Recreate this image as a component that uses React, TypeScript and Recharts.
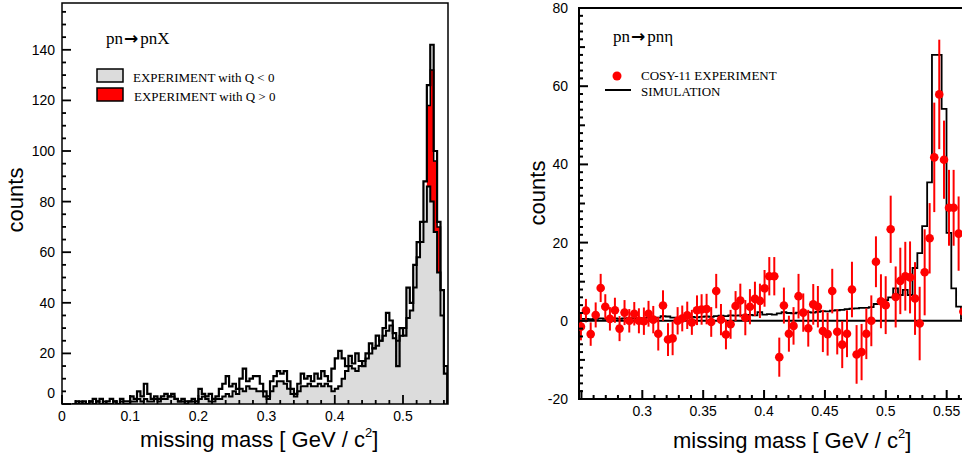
import React from 'react';
import { ComposedChart, Area, Line, XAxis, YAxis, ReferenceArea, ReferenceLine, Scatter, ErrorBar } from 'recharts';

// ---------- Left panel: pn -> pnX histograms (bin start, counts) ----------
const massLeft = [
  0.015, 0.02, 0.025, 0.03, 0.035, 0.04, 0.045, 0.05, 0.055, 0.06,
  0.065, 0.07, 0.075, 0.08, 0.085, 0.09, 0.095, 0.1, 0.105, 0.11,
  0.115, 0.12, 0.125, 0.13, 0.135, 0.14, 0.145, 0.15, 0.155, 0.16,
  0.165, 0.17, 0.175, 0.18, 0.185, 0.19, 0.195, 0.2, 0.205, 0.21,
  0.215, 0.22, 0.225, 0.23, 0.235, 0.24, 0.245, 0.25, 0.255, 0.26,
  0.265, 0.27, 0.275, 0.28, 0.285, 0.29, 0.295, 0.3, 0.305, 0.31,
  0.315, 0.32, 0.325, 0.33, 0.335, 0.34, 0.345, 0.35, 0.355, 0.36,
  0.365, 0.37, 0.375, 0.38, 0.385, 0.39, 0.395, 0.4, 0.405, 0.41,
  0.415, 0.42, 0.425, 0.43, 0.435, 0.44, 0.445, 0.45, 0.455, 0.46,
  0.465, 0.47, 0.475, 0.48, 0.485, 0.49, 0.495, 0.5, 0.505, 0.51,
  0.515, 0.52, 0.525, 0.53, 0.535, 0.54, 0.545, 0.55, 0.555, 0.56,
  0.565,
];
const countsQpos = [
  0, 1, 0, 1, 0, 1, 2, 1, 2, 0,
  1, 2, 1, 0, 2, 1, 1, 3, 2, 5,
  3, 8, 4, 2, 3, 2, 3, 4, 3, 4,
  2, 1, 2, 1, 1, 2, 1, 6, 4, 3,
  4, 2, 3, 6, 8, 11, 7, 8, 6, 10,
  14, 9, 10, 11, 11, 8, 5, 3, 9, 11,
  13, 12, 13, 9, 6, 4, 8, 12, 10, 11,
  9, 12, 10, 13, 11, 9, 14, 18, 21, 18,
  15, 19, 16, 20, 17, 15, 20, 24, 22, 27,
  25, 30, 36, 33, 28, 15, 30, 27, 46, 40,
  55, 64, 72, 88, 126, 142, 100, 72, 45, 12,
  0,
];
const countsQneg = [
  0, 0, 1, 0, 0, 1, 0, 1, 0, 1,
  0, 0, 1, 0, 1, 0, 0, 1, 1, 2,
  1, 2, 1, 1, 2, 1, 2, 2, 3, 3,
  2, 1, 1, 0, 1, 1, 0, 2, 3, 2,
  1, 1, 2, 2, 3, 4, 3, 5, 4, 6,
  5, 7, 6, 6, 5, 5, 3, 2, 5, 7,
  9, 9, 8, 6, 4, 3, 5, 7, 7, 8,
  7, 7, 8, 7, 8, 7, 5, 6, 7, 10,
  13, 15, 14, 13, 15, 17, 18, 20, 22, 23,
  25, 27, 29, 31, 26, 25, 27, 30, 34, 37,
  46, 58, 64, 72, 86, 80, 68, 52, 35, 15,
  0,
];
const countsPeakRed: (number | null)[] = [
  null, null, null, null, null, null, null, null, null, null,
  null, null, null, null, null, null, null, null, null, null,
  null, null, null, null, null, null, null, null, null, null,
  null, null, null, null, null, null, null, null, null, null,
  null, null, null, null, null, null, null, null, null, null,
  null, null, null, null, null, null, null, null, null, null,
  null, null, null, null, null, null, null, null, null, null,
  null, null, null, null, null, null, null, null, null, null,
  null, null, null, null, null, null, null, null, null, null,
  null, null, null, null, null, null, null, null, null, null,
  null, null, null, null, 118, 132, 96, 70, 45, null,
  null,
];

// ---------- Right panel: pn -> pn eta ----------
const massRight = [
  0.2496, 0.2537, 0.2576, 0.2617, 0.2658, 0.2696, 0.2734, 0.2775, 0.2813, 0.2854,
  0.2893, 0.2934, 0.2972, 0.3013, 0.3051, 0.309, 0.3131, 0.317, 0.3211, 0.3249,
  0.329, 0.3328, 0.3369, 0.3407, 0.3449, 0.3487, 0.3528, 0.3566, 0.3607, 0.3646,
  0.3687, 0.3725, 0.3766, 0.3805, 0.3846, 0.3884, 0.3925, 0.3966, 0.4004, 0.4043,
  0.4084, 0.4125, 0.4163, 0.4204, 0.4242, 0.4283, 0.4322, 0.4363, 0.4404, 0.4442,
  0.4483, 0.4522, 0.456, 0.4601, 0.4642, 0.4681, 0.4722, 0.476, 0.4801, 0.484,
  0.4881, 0.4919, 0.496, 0.4999, 0.504, 0.5081, 0.5119, 0.516, 0.5199, 0.524,
  0.5278, 0.5319, 0.536, 0.5398, 0.5439, 0.5478, 0.5519, 0.5557, 0.5598, 0.5637,
];
const countsExp = [
  -1.5, 2.6, -3.4, 1.5, 8.4, 3.6, 0.5, 2.7, -2.0, 2.1,
  0, 1.8, 0, -0.1, 1.8, 0.3, -3.3, 3.9, -4.8, -4.5,
  0, 0.6, 1.4, -0.4, 2.7, 2.9, 3.0, -0.3, 7.6, 0.3,
  -3.5, -0.9, 3.8, 5.2, 0.8, 3.6, 5.6, 5.1, 8.3, 11.4,
  11.4, -9.3, 3.9, -3.3, -1.3, 6.3, 2.1, -1.9, 4.2, 3.6,
  -2.6, -3.4, 7.6, -2.8, -6.1, -3.3, 8.0, -8.6, -8.0, -3.3,
  0, 15.1, 5.0, 4.0, 23.4, 6.1, 10.2, 11.4, 11.1, 5.7,
  -0.7, 12.4, 21.1, 41.8, 57.9, 41.2, 28.9, 28.9, 22.3, 2.4,
];
const errExp = [
  3.5, 3.0, 3.0, 3.2, 3.6, 3.2, 3.0, 3.2, 3.2, 3.2,
  3.0, 3.0, 3.2, 3.5, 3.3, 3.5, 4.3, 3.9, 4.2, 4.3,
  3.5, 3.3, 3.5, 3.2, 3.8, 3.9, 3.9, 3.8, 4.4, 4.0,
  3.8, 3.7, 3.8, 4.3, 4.5, 4.5, 4.4, 4.4, 4.7, 4.9,
  4.9, 5.0, 4.6, 4.6, 4.8, 5.7, 4.9, 4.7, 5.2, 5.3,
  5.4, 5.5, 5.7, 5.8, 6.0, 6.0, 7.1, 7.5, 7.2, 6.5,
  6.5, 6.5, 6.9, 7.4, 8.6, 7.8, 8.5, 8.8, 9.2, 9.3,
  9.4, 11.0, 9.0, 14.0, 14.0, 10.0, 9.7, 9.7, 9.5, 8.0,
];
const countsSim = [
  0.5, 0.5, 0.4, 0.5, 0.6, 0.5, 0.6, 0.6, 0.5, 0.6,
  0.7, 0.6, 0.7, 0.6, 0.8, 0.7, 0.8, 1.2, 1.1, 0.8,
  0.8, 0.9, 0.8, 1.0, 0.9, 1.0, 1.1, 1.0, 1.2, 1.3,
  1.2, 1.4, 1.3, 1.4, 1.3, 1.5, 1.4, 2.2, 1.6, 1.7,
  1.6, 1.9, 2.2, 2.0, 1.9, 2.1, 2.0, 2.2, 2.1, 2.3,
  2.5, 2.4, 2.6, 2.7, 2.8, 3.0, 3.1, 3.2, 3.3, 3.3,
  3.5, 4.3, 4.8, 5.3, 6.0, 8.3, 6.6, 7.9, 6.6, 13.5,
  17.3, 24.2, 35.4, 68, 68, 54.2, 22.5, 8.3, 3.6, 0.5,
];

// ---------- Tick labels ----------
const leftXLabels = [0, 0.1, 0.2, 0.3, 0.4, 0.5];
const leftYLabels = [0, 20, 40, 60, 80, 100, 120, 140];
const rightXLabels = [0.3, 0.35, 0.4, 0.45, 0.5, 0.55];
const rightYLabels = [-20, 0, 20, 40, 60, 80];

const range = (a: number, b: number, s: number) => {
  const out: number[] = [];
  const n = Math.round((b - a) / s);
  for (let i = 0; i <= n; i++) out.push(Number((a + i * s).toFixed(4)));
  return out;
};
const leftXTicks = range(0, 0.56, 0.02);
const leftYTicks = range(0, 155, 5);
const rightXTicks = range(0.25, 0.6, 0.01);
const rightYTicks = range(-20, 80, 2);

const LX: [number, number] = [0, 0.566];
const LY: [number, number] = [0, 158.5];
const RX: [number, number] = [0.248, 0.602];
const RY: [number, number] = [-20, 80];

const leftRows = massLeft.map((m, i) => ({ m, qneg: countsQneg[i], qpos: countsQpos[i], red: countsPeakRed[i] }));
const rightRows = massRight.map((m, i) => ({ m, cnt: countsExp[i], err: errExp[i], sim: countsSim[i] }));

const SANS = "'Liberation Sans', Arial, Helvetica, sans-serif";
const SERIF = "'Liberation Serif', 'Times New Roman', serif";

const near = (a: number, b: number) => Math.abs(a - b) < 1e-6;
const isMult = (v: number, s: number) => near(v / s, Math.round(v / s));
const fmt = (v: number) => String(Number(v.toFixed(2)));

// Tick renderers: inward tick mark + label (label only on labelled values)
function makeYTick(labels: number[], major: number, mid: number | null, gap: number, zeroDy: number, sw: number) {
  return (props: any) => {
    const x = Number(props.x);
    const y = Number(props.y);
    const v = Number(props.payload.value);
    const len = isMult(v, major) ? 9 : mid != null && isMult(v, mid) ? 6 : 4;
    const lab = labels.some((l) => near(l, v));
    return (
      <g>
        <rect x={x} y={y - sw / 2} width={len} height={sw} fill="#000000" stroke="none" />
        {lab ? (
          <text x={x - gap} y={y + (near(v, 0) ? zeroDy : 0)} dy="0.36em" textAnchor="end" fontFamily={SANS} fontSize={14} fill="#000000" stroke="none">
            {fmt(v)}
          </text>
        ) : null}
      </g>
    );
  };
}
function makeXTick(labels: number[], major: number, gap: number, sw: number) {
  return (props: any) => {
    const x = Number(props.x);
    const y = Number(props.y);
    const v = Number(props.payload.value);
    const len = isMult(v, major) ? 9 : 4;
    const lab = labels.some((l) => near(l, v));
    return (
      <g>
        <rect x={x - sw / 2} y={y - len} width={sw} height={len} fill="#000000" stroke="none" />
        {lab ? (
          <text x={x} y={y + gap} dy="0.36em" textAnchor="middle" fontFamily={SANS} fontSize={14} fill="#000000" stroke="none">
            {fmt(v)}
          </text>
        ) : null}
      </g>
    );
  };
}

const leftXTick = makeXTick(leftXLabels, 0.1, 12, 1.8);
const leftYTick = makeYTick(leftYLabels, 20, null, 7, -11, 1.8);
const rightXTick = makeXTick(rightXLabels, 0.05, 12, 2);
const rightYTick = makeYTick(rightYLabels, 20, 10, 11, 0, 2);
const redDot = (p: any) => <circle cx={p.cx} cy={p.cy} r={4.3} fill="#ff0000" />;

function LeftChart() {
  return (
    <ComposedChart width={460} height={459} data={leftRows} margin={{ top: 3, right: 12, left: 0, bottom: 0 }}>
      <Area type="stepAfter" dataKey="red" fill="#ff0000" fillOpacity={1} stroke="#000" strokeWidth={1.5}
        connectNulls={false} isAnimationActive={false} dot={false} activeDot={false} />
      <Area type="stepAfter" dataKey="qneg" fill="#dcdcdc" fillOpacity={1} stroke="#000" strokeWidth={2}
        isAnimationActive={false} dot={false} activeDot={false} />
      <Line type="stepAfter" dataKey="qpos" stroke="#000" strokeWidth={2.2} dot={false} activeDot={false}
        isAnimationActive={false} />
      <ReferenceArea x1={LX[0]} x2={LX[1]} y1={LY[0]} y2={LY[1]} fill="none" fillOpacity={0} stroke="#000" strokeWidth={1.5} />
      <XAxis type="number" dataKey="m" domain={LX} ticks={leftXTicks} interval={0} height={55}
        tickSize={0} tickMargin={0} axisLine={false} tickLine={false} allowDataOverflow tick={leftXTick} />
      <YAxis type="number" domain={LY} ticks={leftYTicks} interval={0} width={62}
        tickSize={0} tickMargin={0} axisLine={false} tickLine={false} allowDataOverflow tick={leftYTick} />
    </ComposedChart>
  );
}

function RightChart() {
  return (
    <ComposedChart width={540} height={459} data={rightRows} margin={{ top: 8, right: 10, left: 0, bottom: 0 }}>
      <ReferenceLine y={0} stroke="#000" strokeWidth={2} />
      <Line type="step" dataKey="sim" stroke="#000" strokeWidth={1.8} dot={false} activeDot={false}
        isAnimationActive={false} />
      <Scatter dataKey="cnt" data={rightRows} fill="#ff0000" isAnimationActive={false} shape={redDot}>
        <ErrorBar dataKey="err" direction="y" width={0} stroke="#ff0000" strokeWidth={2} />
      </Scatter>
      <ReferenceArea x1={RX[0]} x2={RX[1]} y1={RY[0]} y2={RY[1]} fill="none" fillOpacity={0} stroke="#000" strokeWidth={2} />
      <XAxis type="number" dataKey="m" domain={RX} ticks={rightXTicks} interval={0} height={60}
        tickSize={0} tickMargin={0} axisLine={false} tickLine={false} allowDataOverflow tick={rightXTick} />
      <YAxis type="number" domain={RY} ticks={rightYTicks} interval={0} width={99}
        tickSize={0} tickMargin={0} axisLine={false} tickLine={false} allowDataOverflow tick={rightYTick} />
    </ComposedChart>
  );
}

export default function App() {
  return (
    <div style={{ position: 'fixed', left: 0, top: 0, width: 962, height: 459, overflow: 'hidden', background: '#fff' }}>
      <svg width={962} height={459} style={{ position: 'absolute', left: 0, top: 0 }}>
        <text x={106} y={44} fontFamily={SERIF} fontSize={17} fill="#000">
          pn<tspan fontFamily="'DejaVu Sans', sans-serif" fontWeight="bold" fontSize={17} dx={1}>→</tspan><tspan dx={2}>pnX</tspan>
        </text>
        <rect x={97} y={69} width={26} height={13} fill="#dcdcdc" stroke="#000" strokeWidth={1.5} />
        <text x={133} y={81.5} fontFamily={SERIF} fontSize={13} fill="#000">EXPERIMENT with Q &lt; 0</text>
        <rect x={97} y={88} width={26} height={13} fill="#ff0000" stroke="#000" strokeWidth={1.5} />
        <text x={134} y={100.5} fontFamily={SERIF} fontSize={13} fill="#000">EXPERIMENT with Q &gt; 0</text>
        <text x={15} y={200} transform="rotate(-90 15 200)" dy="0.36em" textAnchor="middle" fontFamily={SANS} fontSize={22} fill="#000">counts</text>
        <text x={140} y={447} fontFamily={SANS} fontSize={22} fill="#000">
          missing mass [ GeV / c<tspan fontSize={13} dy={-10}>2</tspan><tspan dy={10}>]</tspan>
        </text>
        <text x={613} y={42} fontFamily={SERIF} fontSize={17} fill="#000">
          pn<tspan fontFamily="'DejaVu Sans', sans-serif" fontWeight="bold" fontSize={17} dx={1}>→</tspan><tspan dx={2}>pnη</tspan>
        </text>
        <circle cx={617} cy={76} r={4.5} fill="#ff0000" />
        <text x={641} y={79.5} fontFamily={SERIF} fontSize={13} fill="#000">COSY-11 EXPERIMENT</text>
        <line x1={605} x2={631} y1={90} y2={90} stroke="#000" strokeWidth={2} />
        <text x={641} y={95.5} fontFamily={SERIF} fontSize={13} fill="#000">SIMULATION</text>
        <text x={537} y={193} transform="rotate(-90 537 193)" dy="0.36em" textAnchor="middle" fontFamily={SANS} fontSize={22} fill="#000">counts</text>
        <text x={673} y={448} fontFamily={SANS} fontSize={22} fill="#000">
          missing mass [ GeV / c<tspan fontSize={13} dy={-10}>2</tspan><tspan dy={10}>]</tspan>
        </text>
      </svg>
      <div style={{ position: 'absolute', left: 0, top: 0 }}>
        <LeftChart />
      </div>
      <div style={{ position: 'absolute', left: 480, top: 0 }}>
        <RightChart />
      </div>
    </div>
  );
}
